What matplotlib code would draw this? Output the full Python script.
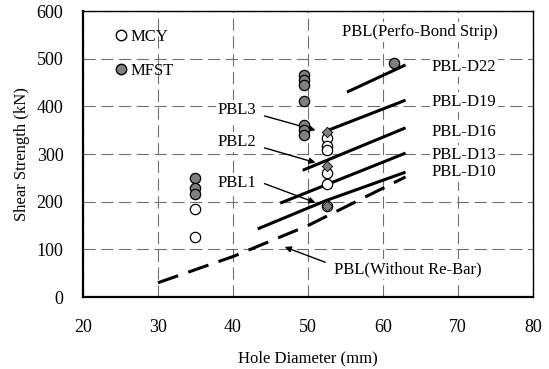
import matplotlib
matplotlib.use("Agg")
import matplotlib.pyplot as plt
from matplotlib.lines import Line2D

plt.rcParams["font.family"] = ["Liberation Serif", "DejaVu Serif"]

# test results (hole diameter, shear strength)
mcy_x = [35, 35, 52.5, 52.5, 52.5, 52.5, 52.5, 52.5]
mcy_y = [185, 127, 333, 316, 308, 260, 238, 190]
mfst_x = [35, 35, 35, 49.5, 49.5, 49.5, 49.5, 49.5, 49.5, 49.5, 61.5]
mfst_y = [250, 228, 216, 465, 455, 445, 412, 361, 351, 341, 492]
pbl_x = [52.5, 52.5, 52.5]
pbl_y = [347, 274, 190]

# design lines
lines = {
    "PBL-D22": ([55.2, 63.0], [430, 487]),
    "PBL-D19": ([52.7, 63.0], [350, 413]),
    "PBL-D16": ([49.3, 63.0], [266, 355]),
    "PBL-D13": ([46.3, 63.0], [197, 302]),
    "PBL-D10": ([43.3, 52.5, 63.0], [143, 203, 262]),
}
label_y = {"PBL-D22": 482, "PBL-D19": 409, "PBL-D16": 346,
           "PBL-D13": 298, "PBL-D10": 262}
norebar_x = [30, 40, 50, 63]
norebar_y = [30, 85, 150, 252]

fig = plt.figure(figsize=(5.49, 3.69), dpi=100)
ax = fig.add_axes([0.151, 0.195, 0.820, 0.775])

ax.set_xlim(20, 80)
ax.set_ylim(0, 600)
ax.set_xticks(range(20, 81, 10))
ax.set_yticks(range(0, 601, 100))
ax.tick_params(length=0, labelsize=13)
ax.tick_params(axis="y", pad=14)
ax.tick_params(axis="x", pad=16)
ax.grid(True, color="#707070", linewidth=0.8, linestyle=(0, (11, 5)))
ax.set_axisbelow(True)
for side in ["left", "bottom"]:
    ax.spines[side].set_linewidth(1.6)
for side in ["top", "right"]:
    ax.spines[side].set_linewidth(1.0)

bg = dict(facecolor="white", edgecolor="none", pad=1.5)

for name, (xs, ys) in lines.items():
    ax.plot(xs, ys, color="black", linewidth=2.2, solid_capstyle="butt")
    ax.text(66.5, label_y[name], name, fontsize=12, va="center", ha="left",
            bbox=bg)
ax.plot(norebar_x, norebar_y, color="black", linewidth=2.2,
        dashes=(7, 3.5), dash_capstyle="butt")

ax.scatter(mcy_x, mcy_y, s=55, facecolor="white", edgecolor="black",
           linewidth=0.9, zorder=4)
ax.scatter(mfst_x, mfst_y, s=55, facecolor="#7f7f7f", edgecolor="black",
           linewidth=0.9, zorder=4)
ax.scatter(pbl_x, pbl_y, s=28, marker="D", facecolor="#7f7f7f",
           edgecolor="black", linewidth=0.6, zorder=5)

ax.text(54.5, 556, "PBL(Perfo-Bond Strip)", fontsize=12, va="center", bbox=bg)

arrow = dict(arrowstyle="-|>", color="black", lw=1.0, mutation_scale=9,
             shrinkA=0, shrinkB=0)
for lab, ty, start, head in [("PBL3", 392, (44.2, 380), (51.0, 350)),
                             ("PBL2", 325, (44.2, 313), (51.0, 282)),
                             ("PBL1", 239, (44.2, 238), (51.0, 198))]:
    ax.text(38, ty, lab, fontsize=12, va="center", bbox=bg)
    ax.annotate("", xy=head, xytext=start, arrowprops=arrow)

ax.text(53.5, 58, "PBL(Without Re-Bar)", fontsize=12, va="center", bbox=bg)
ax.annotate("", xy=(46.9, 105), xytext=(52.3, 73), arrowprops=arrow)

handles = [
    Line2D([], [], marker="o", linestyle="none", markersize=7.5,
           markerfacecolor="white", markeredgecolor="black", label="MCY"),
    Line2D([], [], marker="o", linestyle="none", markersize=7.5,
           markerfacecolor="#7f7f7f", markeredgecolor="black", label="MFST"),
]
leg = ax.legend(handles=handles, loc="upper left", bbox_to_anchor=(0.04, 0.99),
                frameon=False, fontsize=12, handlelength=0.6,
                handletextpad=0.3, labelspacing=1.1)

ax.set_xlabel("Hole Diameter (mm)", fontsize=12, labelpad=10)
ax.set_ylabel("Shear Strength (kN)", fontsize=12, labelpad=5)

fig.savefig("out.png", dpi=100)
